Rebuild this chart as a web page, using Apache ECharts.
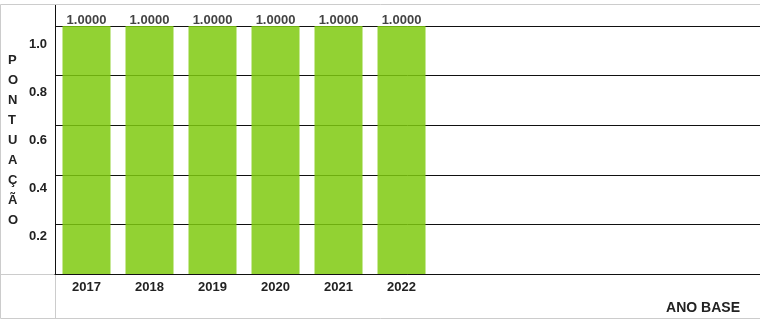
<!DOCTYPE html>
<html>
<head>
<meta charset="utf-8">
<script src="https://cdn.jsdelivr.net/npm/echarts@6/dist/echarts.min.js"></script>
<style>html,body{margin:0;padding:0;background:#fff}#c{width:760px;height:320px}</style>
</head>
<body>
<div id="c"></div>
<script>
var years = ['2017', '2018', '2019', '2020', '2021', '2022'];
var scores = [1.0, 1.0, 1.0, 1.0, 1.0, 1.0];
var yTickLabels = [0.2, 0.4, 0.6, 0.8, 1.0];
var yTitle = 'PONTUAÇÃO';
var xTitle = 'ANO BASE';

var FONT = '"Liberation Sans", Arial, sans-serif';
var chart = echarts.init(document.getElementById('c'), null, {renderer: 'canvas'});
var gridLeft = 55, gridTop = 26, gridBottom = 46;

chart.setOption({
  animation: false,
  grid: {left: gridLeft, right: 0, top: gridTop, bottom: gridBottom},
  xAxis: {
    type: 'value', min: -0.5, max: 10.69,
    splitLine: {show: false},
    axisTick: {show: false},
    axisLine: {show: true, onZero: false, lineStyle: {color: '#111', width: 1}},
    axisLabel: {
      customValues: years.map(function (y, i) { return i; }),
      formatter: function (v) { return years[v] || ''; },
      margin: 7, fontFamily: FONT, fontWeight: 'bold', fontSize: 13, color: '#222'
    }
  },
  yAxis: [{
    type: 'value', min: 0, max: 1.0, interval: 0.2,
    axisLine: {show: true, onZero: false, lineStyle: {color: '#111', width: 1}},
    axisTick: {show: false},
    axisLabel: {show: false},
    splitLine: {show: true, lineStyle: {color: '#111', width: 1}}
  }, {
    type: 'value', min: 0.041667, max: 1.075, position: 'left',
    axisLine: {show: false, onZero: false}, axisTick: {show: false}, splitLine: {show: false},
    axisLabel: {
      customValues: yTickLabels,
      formatter: function (v) { return v.toFixed(1); },
      margin: 8, fontFamily: FONT, fontWeight: 'bold', fontSize: 13, color: '#222'
    }
  }],
  series: [{
    type: 'bar',
    yAxisIndex: 0,
    barWidth: 48,
    data: scores.map(function (v, i) { return [i, v]; }),
    itemStyle: {color: 'rgb(127,202,15)', opacity: 0.85},
    label: {
      show: true, position: 'top', distance: -1,
      formatter: function (p) { return p.value[1].toFixed(4); },
      fontFamily: FONT, fontWeight: 'bold', fontSize: 13, color: '#222'
    }
  }],
  graphic: [
    {type: 'rect', silent: true, z: -1, shape: {x: 0.5, y: 4.5, width: 762, height: 314},
      style: {fill: null, stroke: '#cccccc', lineWidth: 1}},
    {type: 'line', silent: true, shape: {x1: 0, y1: 274.5, x2: gridLeft, y2: 274.5},
      style: {stroke: '#cccccc', lineWidth: 1}},
    {type: 'line', silent: true, shape: {x1: gridLeft + 0.5, y1: 274.5, x2: gridLeft + 0.5, y2: 318},
      style: {stroke: '#cccccc', lineWidth: 1}},
    {type: 'line', silent: true, shape: {x1: gridLeft + 0.5, y1: 5, x2: gridLeft + 0.5, y2: gridTop},
      style: {stroke: '#111', lineWidth: 1}},
    {type: 'text', silent: true, left: 8, top: 50,
      style: {text: yTitle.split('').join('\n'), font: 'bold 13px ' + FONT, lineHeight: 20.1,
        fill: '#222', align: 'center', width: 14}},
    {type: 'text', silent: true, right: 20, top: 301,
      style: {text: xTitle, font: 'bold 14px ' + FONT, fill: '#222'}}
  ]
});
</script>
</body>
</html>
